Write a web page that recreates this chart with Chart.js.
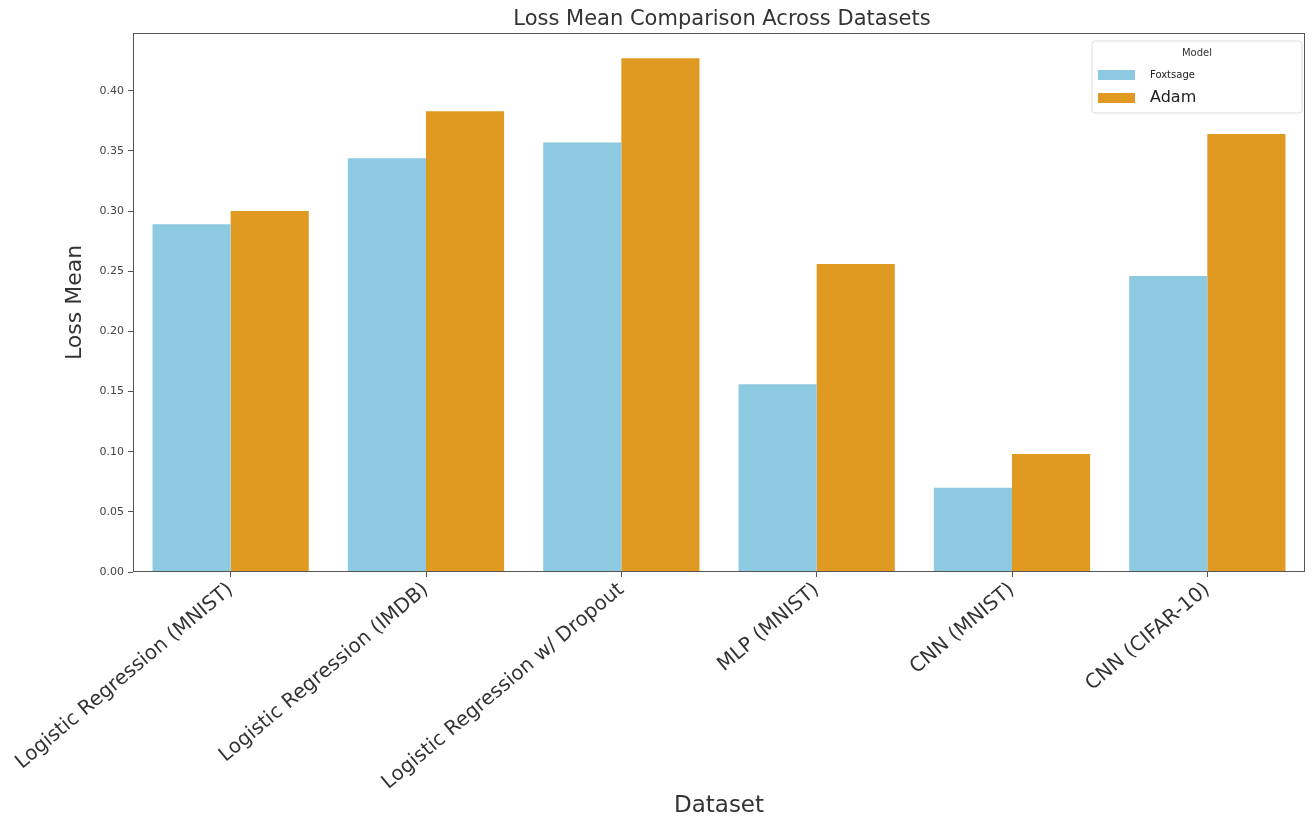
<!DOCTYPE html>
<html lang="en">
<head>
    <title>Loss Mean Comparison</title>
    <script src="https://cdn.jsdelivr.net/npm/chart.js"></script>
    <style>
        html, body { margin: 0; padding: 0; background: #fff; }
        .chart-container { width: 1315px; height: 820px; position: relative; }
        canvas { display: block; }
    </style>
</head>
<body>
    <div class="chart-container">
        <canvas id="myChart" width="1315" height="820"></canvas>
    </div>

    <script>
        const datasetNames = [
            "Logistic Regression (MNIST)",
            "Logistic Regression (IMDB)",
            "Logistic Regression w/ Dropout",
            "MLP (MNIST)",
            "CNN (MNIST)",
            "CNN (CIFAR-10)"
        ];
        const modelNames = ["Foxtsage", "Adam"];
        const foxtsageLoss = [0.289, 0.344, 0.357, 0.156, 0.070, 0.246];
        const adamLoss = [0.300, 0.383, 0.427, 0.256, 0.098, 0.364];
        const yTicks = [0.00, 0.05, 0.10, 0.15, 0.20, 0.25, 0.30, 0.35, 0.40];

        const FONT = "'DejaVu Sans', sans-serif";
        const blue = "rgb(141,201,225)";
        const orange = "rgb(224,154,33)";

        // frame around the plot + title + legend box
        const decorations = {
            id: "decorations",
            afterDraw(chart) {
                const ctx = chart.ctx;
                const a = chart.chartArea;
                ctx.save();
                ctx.strokeStyle = "#555";
                ctx.lineWidth = 1;
                ctx.strokeRect(a.left + 0.5, a.top + 0.5, a.right - a.left - 1, a.bottom - a.top - 1);

                ctx.fillStyle = "#333";
                ctx.font = "21px " + FONT;
                ctx.textAlign = "center";
                ctx.textBaseline = "middle";
                ctx.fillText("Loss Mean Comparison Across Datasets", (a.left + a.right) / 2 + 3, 20);

                // legend
                const bx = a.right - 213, by = a.top + 8, bw = 210, bh = 72;
                ctx.fillStyle = "rgba(255,255,255,0.85)";
                ctx.strokeStyle = "#ddd";
                ctx.beginPath();
                ctx.roundRect(bx, by, bw, bh, 3);
                ctx.fill();
                ctx.stroke();

                ctx.fillStyle = "#333";
                ctx.font = "10px " + FONT;
                ctx.textAlign = "center";
                ctx.fillText("Model", bx + bw / 2, by + 12);

                const items = chart.data.datasets;
                const sizes = [10, 16];
                const rows = [by + 34, by + 57];
                items.forEach((ds, i) => {
                    ctx.fillStyle = ds.backgroundColor;
                    ctx.fillRect(bx + 6, rows[i] - 5, 37, 10);
                    ctx.fillStyle = "#222";
                    ctx.font = sizes[i] + "px " + FONT;
                    ctx.textAlign = "left";
                    ctx.fillText(ds.label, bx + 58, rows[i]);
                });
                ctx.restore();
            }
        };

        const ctx = document.getElementById("myChart").getContext("2d");
        new Chart(ctx, {
            type: "bar",
            data: {
                labels: datasetNames,
                datasets: [
                    { label: modelNames[0], data: foxtsageLoss, backgroundColor: blue },
                    { label: modelNames[1], data: adamLoss, backgroundColor: orange }
                ]
            },
            options: {
                responsive: false,
                animation: false,
                devicePixelRatio: 1,
                layout: { padding: { top: 33, right: 10, left: 0, bottom: 0 } },
                datasets: { bar: { categoryPercentage: 0.8, barPercentage: 1.0 } },
                plugins: {
                    legend: { display: false },
                    title: { display: false },
                    tooltip: { enabled: false }
                },
                scales: {
                    x: {
                        grid: { offset: false, drawOnChartArea: false, drawTicks: true, tickLength: 5, color: "#555" },
                        border: { display: false },
                        ticks: {
                            minRotation: 40,
                            maxRotation: 40,
                            autoSkip: false,
                            padding: 1,
                            color: "#333",
                            font: { family: FONT, size: 20 }
                        },
                        title: {
                            display: true,
                            text: "Dataset",
                            color: "#333",
                            font: { family: FONT, size: 23 },
                            padding: { top: 4, bottom: 0 }
                        },
                        afterFit(scale) { scale.height = 248; }
                    },
                    y: {
                        min: 0,
                        max: 0.448,
                        grid: { drawOnChartArea: false, drawTicks: true, tickLength: 5, color: "#555" },
                        border: { display: false },
                        afterBuildTicks(scale) {
                            scale.ticks = yTicks.map(v => ({ value: v }));
                        },
                        ticks: {
                            color: "#444",
                            padding: 4,
                            font: { family: FONT, size: 11 },
                            callback: v => v.toFixed(2)
                        },
                        title: {
                            display: true,
                            text: "Loss Mean",
                            color: "#333",
                            font: { family: FONT, size: 22 },
                            padding: { top: 62, bottom: 0 }
                        },
                        afterFit(scale) { scale.width = 133; }
                    }
                }
            },
            plugins: [decorations]
        });
    </script>
</body>
</html>
